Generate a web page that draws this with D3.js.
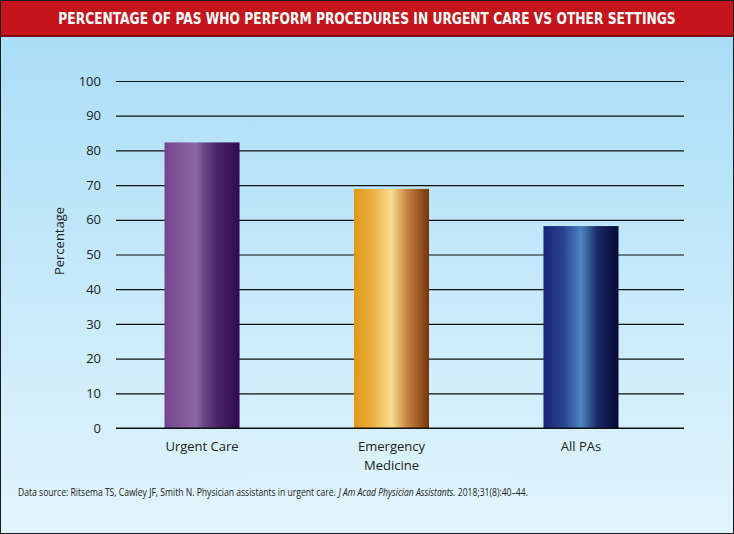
<!DOCTYPE html>
<html><head><meta charset="utf-8">
<script src="https://cdn.jsdelivr.net/npm/d3@7"></script>
<style>body{margin:0;padding:0;overflow:hidden}svg{display:block}</style>
</head><body>
<svg id="chart" width="734" height="534"></svg>
<script>
const categories = ["Urgent Care", "Emergency Medicine", "All PAs"];
const values = [82.3, 68.9, 58.2];
const yTicks = [0, 10, 20, 30, 40, 50, 60, 70, 80, 90, 100];
const title = "PERCENTAGE OF PAS WHO PERFORM PROCEDURES IN URGENT CARE VS OTHER SETTINGS";
const yLabel = "Percentage";
const sourceParts = [
  ["Data source: Ritsema TS, Cawley JF, Smith N. Physician assistants in urgent care. ", "normal"],
  ["J Am Acad Physician Assistants.", "italic"],
  [" 2018;31(8):40–44.", "normal"]
];

const svg = d3.select("#chart");
const W = 734, H = 534;
const defs = svg.append("defs");

const bg = defs.append("linearGradient").attr("id","bg").attr("x1",0).attr("y1",0).attr("x2",0).attr("y2",1);
bg.append("stop").attr("offset","0%").attr("stop-color","#a6dcf7");
bg.append("stop").attr("offset","100%").attr("stop-color","#e2f5fc");

const barGrads = [
  [["0%","#74448c"],["42%","#8c68a8"],["52%","#6a4888"],["70%","#4a2468"],["100%","#330a50"]],
  [["0%","#e0971a"],["25%","#eab040"],["50%","#f8dc90"],["72%","#c47e40"],["100%","#74360a"]],
  [["0%","#1b2478"],["25%","#28408c"],["50%","#4a84c2"],["72%","#1a2a66"],["100%","#080838"]]
];
barGrads.forEach((stops,i)=>{
  const g = defs.append("linearGradient").attr("id","bar"+i).attr("x1",0).attr("y1",0).attr("x2",1).attr("y2",0);
  stops.forEach(s=>g.append("stop").attr("offset",s[0]).attr("stop-color",s[1]));
});

svg.append("rect").attr("x",0).attr("y",0).attr("width",W).attr("height",H).attr("fill","url(#bg)");
// title bar
svg.append("rect").attr("x",0).attr("y",0).attr("width",W).attr("height",36).attr("fill","#c4141c");
svg.append("line").attr("x1",0).attr("x2",W).attr("y1",36).attr("y2",36).attr("stroke","#7a0c10").attr("stroke-width",2);
const tg = svg.append("g");
const tt = tg.append("text").attr("x",0).attr("y",0).attr("text-anchor","middle")
  .attr("font-family","'DejaVu Sans Condensed','DejaVu Sans',sans-serif").attr("font-weight","bold")
  .attr("font-size",15.5).attr("fill","#ffffff")
  .text(title);
const tw = tt.node().getComputedTextLength();
tg.attr("transform",`translate(367,24) scale(${618/tw},1)`);
// outer border
svg.append("rect").attr("x",0.5).attr("y",0.5).attr("width",W-1).attr("height",H-1)
  .attr("fill","none").attr("stroke","#1a1a1a").attr("stroke-width",1);

const y = d3.scaleLinear().domain([0,100]).range([428,81]);
const x = d3.scaleBand().domain(categories).range([116,667]).paddingInner(0.604).paddingOuter(0.256);

const yAxis = d3.axisLeft(y).tickValues(yTicks).tickSize(-(684-116)).tickPadding(15);
const ag = svg.append("g").attr("transform","translate(116,0)").call(yAxis);
ag.select(".domain").remove();
ag.selectAll(".tick line").attr("stroke","#111").attr("stroke-width",1.2);
ag.selectAll(".tick text").attr("font-family","'Open Sans',sans-serif").attr("font-size",13).attr("fill","#222");

svg.append("g").selectAll("rect").data(values).join("rect")
  .attr("x",(d,i)=>x(categories[i])).attr("width",x.bandwidth())
  .attr("y",d=>y(d)).attr("height",d=>y(0)-y(d))
  .attr("fill",(d,i)=>`url(#bar${i})`);

svg.append("line").attr("x1",116).attr("x2",684).attr("y1",y(0)).attr("y2",y(0)).attr("stroke","#111").attr("stroke-width",1.2);

const xAxis = d3.axisBottom(x).tickSize(0).tickPadding(0);
const xg = svg.append("g").attr("transform",`translate(0,${y(0)})`).call(xAxis);
xg.select(".domain").remove();
xg.selectAll(".tick text").remove();
xg.selectAll(".tick").each(function(d){
  const parts = d === "Emergency Medicine" ? ["Emergency","Medicine"] : [d];
  parts.forEach((p,k)=>d3.select(this).append("text").attr("text-anchor","middle")
    .attr("x",0).attr("y",23 + k*19)
    .attr("font-family","'Open Sans',sans-serif").attr("font-size",13).attr("fill","#222").text(p));
});

svg.append("text").attr("transform","translate(64,241) rotate(-90)").attr("text-anchor","middle")
  .attr("font-family","'Open Sans',sans-serif").attr("font-size",13).attr("fill","#222").text(yLabel);

// source line: pieces placed one after another, then fit to width
const sg = svg.append("g");
let cx = 0;
sourceParts.forEach(([s,st])=>{
  const t = sg.append("text").attr("x",cx).attr("y",0)
    .attr("font-family","'Open Sans',sans-serif").attr("font-size",10).attr("font-style",st)
    .attr("fill","#222").attr("xml:space","preserve").style("white-space","pre").text(s);
  cx += t.node().getComputedTextLength();
});
sg.attr("transform",`translate(18,496) scale(${510/cx},1)`);
</script>
</body></html>
